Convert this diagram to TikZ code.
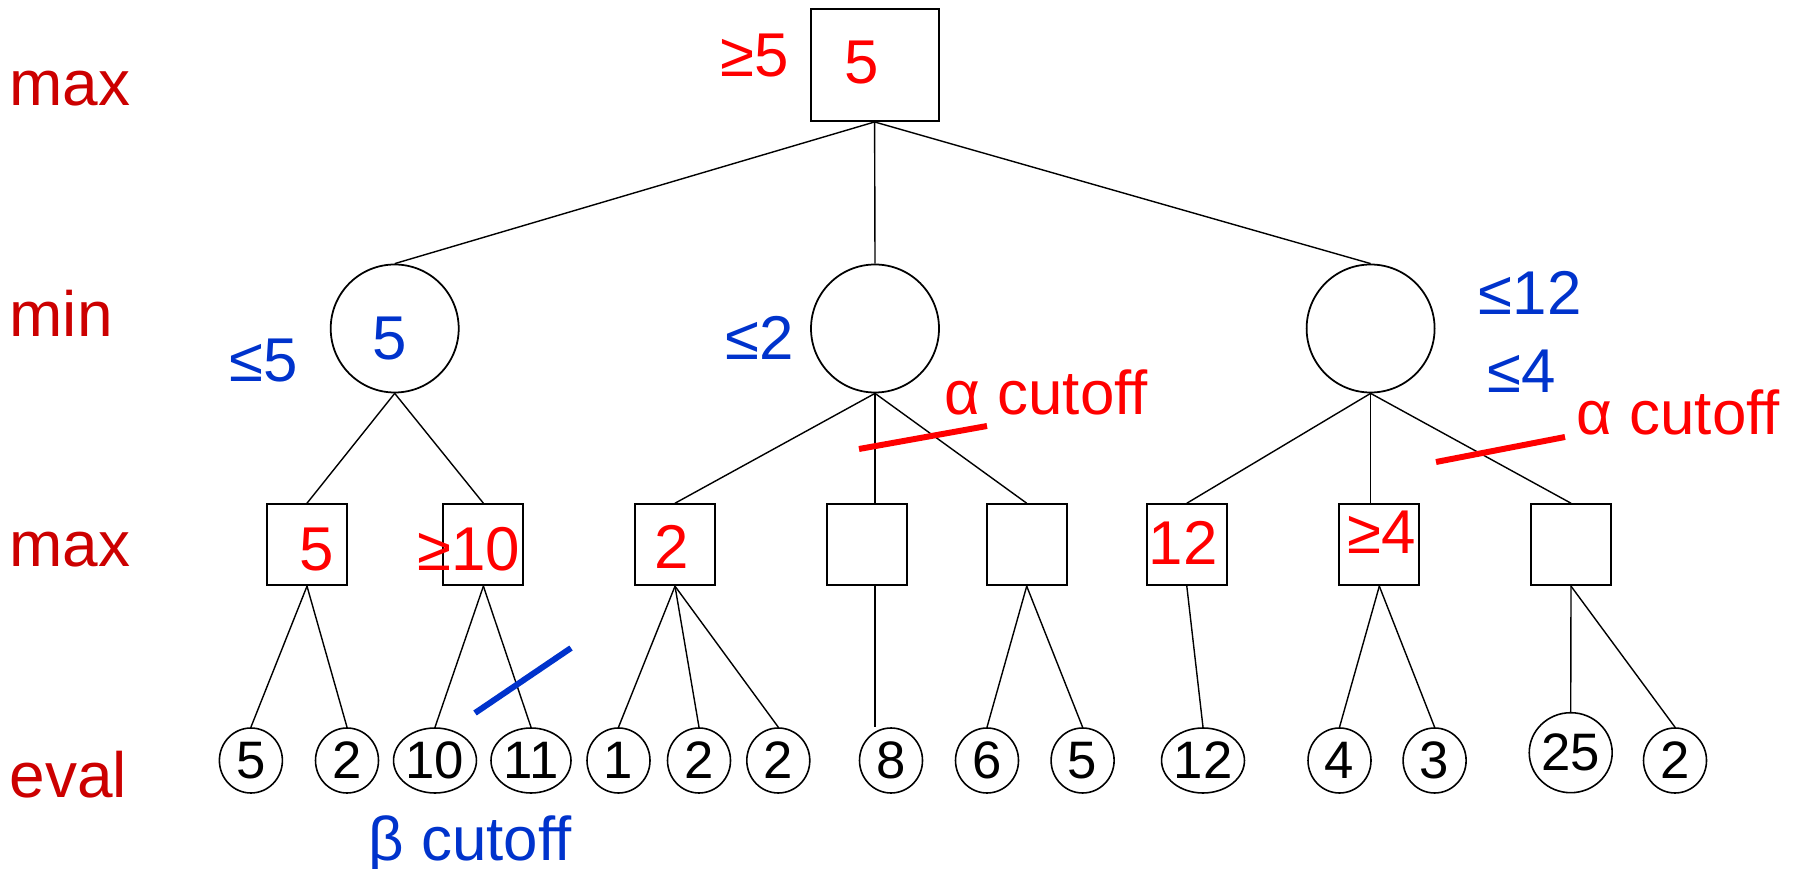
\documentclass[tikz,border=0pt]{standalone}
\usepackage{fontspec}
\setmainfont{Liberation Sans}
\usetikzlibrary{shapes.geometric}
\definecolor{rowred}{RGB}{204,0,0}
\definecolor{cutred}{RGB}{255,0,0}
\definecolor{cutblue}{RGB}{0,51,204}
\tikzset{
  maxbox/.style={draw, line width=0.55pt, minimum width=8mm, minimum height=8.1mm, inner sep=0},
  rootbox/.style={maxbox, minimum width=12.8mm, minimum height=11.2mm},
  minnode/.style={draw, circle, line width=0.5pt, minimum size=12.8mm, inner sep=0},
  leaf/.style={draw, ellipse, line width=0.45pt, minimum width=6.3mm, minimum height=6.5mm, inner sep=0, font=\fontsize{15}{18}\selectfont},
  wideleaf/.style={leaf, minimum width=8mm},
  rowlabel/.style={anchor=base west, inner sep=0, text=rowred, font=\fontsize{18.2}{22}\selectfont},
  hi/.style={anchor=base, inner sep=0, text=cutred, font=\fontsize{17.6}{21}\selectfont},
  lo/.style={hi, text=cutblue},
  cutmark/.style={line width=1.7pt}
}
\begin{document}
\begin{tikzpicture}[x=0.1mm, y=-0.1mm, line width=0.4pt]
  \useasboundingbox (0,0) rectangle (1803,869);
  % levels
  \node[rowlabel](lmax) at (9,106) {max};
  \node[rowlabel](lmin) at (9,337) {min};
  \node[rowlabel](lmax2) at (9,567) {max};
  \node[rowlabel](leval) at (9,797) {eval};
  % root
  \node[rootbox](r) at (874.6,65) {};
  \node[hi](rv) at (862,84) {5};
  \node[hi](ra) at (755,77) {≥5};
  % min nodes
  \node[minnode](m1) at (394.7,328.5) {};
  \node[minnode](m2) at (875,328.5) {};
  \node[minnode](m3) at (1370.6,328.5) {};
  \node[lo](m1v) at (390,360) {5};
  \node[lo](m1b) at (263.5,382) {≤5};
  \node[lo](m2b) at (760,360) {≤2};
  \node[lo](m3b) at (1530,315) {≤12};
  \node[lo](m3c) at (1522,393) {≤4};
  \draw (r.south) -- (m1.north);
  \draw (r.south) -- (m2.north);
  \draw (r.south) -- (m3.north);
  % max nodes
  \node[maxbox](b1) at (307,544.7) {};
  \node[maxbox](b2) at (483.4,544.7) {};
  \node[maxbox](b3) at (675,544.7) {};
  \node[maxbox](b4) at (866.6,544.7) {};
  \node[maxbox](b5) at (1026.7,544.7) {};
  \node[maxbox](b6) at (1186.8,544.7) {};
  \node[maxbox](b7) at (1379.3,544.7) {};
  \node[maxbox](b8) at (1571,544.7) {};
  \node[hi](b1v) at (317,570) {5};
  \node[hi](b2v) at (469,571) {≥10};
  \node[hi](b3v) at (672,569) {2};
  \node[hi](b6v) at (1183,565) {12};
  \node[hi](b7v) at (1382,554) {≥4};
  \draw (m1.south) -- (b1.north);
  \draw (m1.south) -- (b2.north);
  \draw (m2.south) -- (b3.north);
  \draw (m2.south) -- (m2.south |- b4.north);
  \draw (m2.south) -- (b5.north);
  \draw (m3.south) -- (b6.north);
  \draw (m3.south) -- (m3.south |- b7.north);
  \draw (m3.south) -- (b8.north);
  % leaves
  \node[leaf](e1) at (250.9,760.5) {5};
  \node[leaf](e2) at (347,760.5) {2};
  \node[wideleaf](e3) at (435,760.5) {10};
  \node[wideleaf](e4) at (531,760.5) {11};
  \node[leaf](e5) at (618.5,760.5) {1};
  \node[leaf](e6) at (699,760.5) {2};
  \node[leaf](e7) at (778.3,760.5) {2};
  \node[leaf](e8) at (891,760.5) {8};
  \node[leaf](e9) at (987,760.5) {6};
  \node[leaf](e10) at (1082.6,760.5) {5};
  \node[wideleaf](e11) at (1203,760.5) {12};
  \node[leaf](e12) at (1339.5,760.5) {4};
  \node[leaf](e13) at (1434.6,760.5) {3};
  \node[wideleaf, minimum height=8mm](e14) at (1570.7,752.7) {25};
  \node[leaf](e15) at (1675,760.5) {2};
  \draw (b1.south) -- (e1.north);
  \draw (b1.south) -- (e2.north);
  \draw (b2.south) -- (e3.north);
  \draw (b2.south) -- (e4.north);
  \draw (b3.south) -- (e5.north);
  \draw (b3.south) -- (e6.north);
  \draw (b3.south) -- (e7.north);
  \draw (m2.south |- b4.south) -- (m2.south |- e8.north);
  \draw (b5.south) -- (e9.north);
  \draw (b5.south) -- (e10.north);
  \draw (b6.south) -- (e11.north);
  \draw (b7.south) -- (e12.north);
  \draw (b7.south) -- (e13.north);
  \draw (b8.south) -- (e14.north);
  \draw (b8.south) -- (e15.north);
  % cutoffs
  \draw[cutmark, cutred] (859,449) -- (987,426);
  \draw[cutmark, cutred] (1436,462) -- (1565,437);
  \draw[cutmark, cutblue] (475,713) -- (571,648);
  \node[hi, anchor=base west](a1) at (944,415) {α cutoff};
  \node[hi, anchor=base west](a2) at (1576,435) {α cutoff};
  \node[lo, anchor=base west](bc) at (368,860) {β cutoff};
\end{tikzpicture}
\end{document}
